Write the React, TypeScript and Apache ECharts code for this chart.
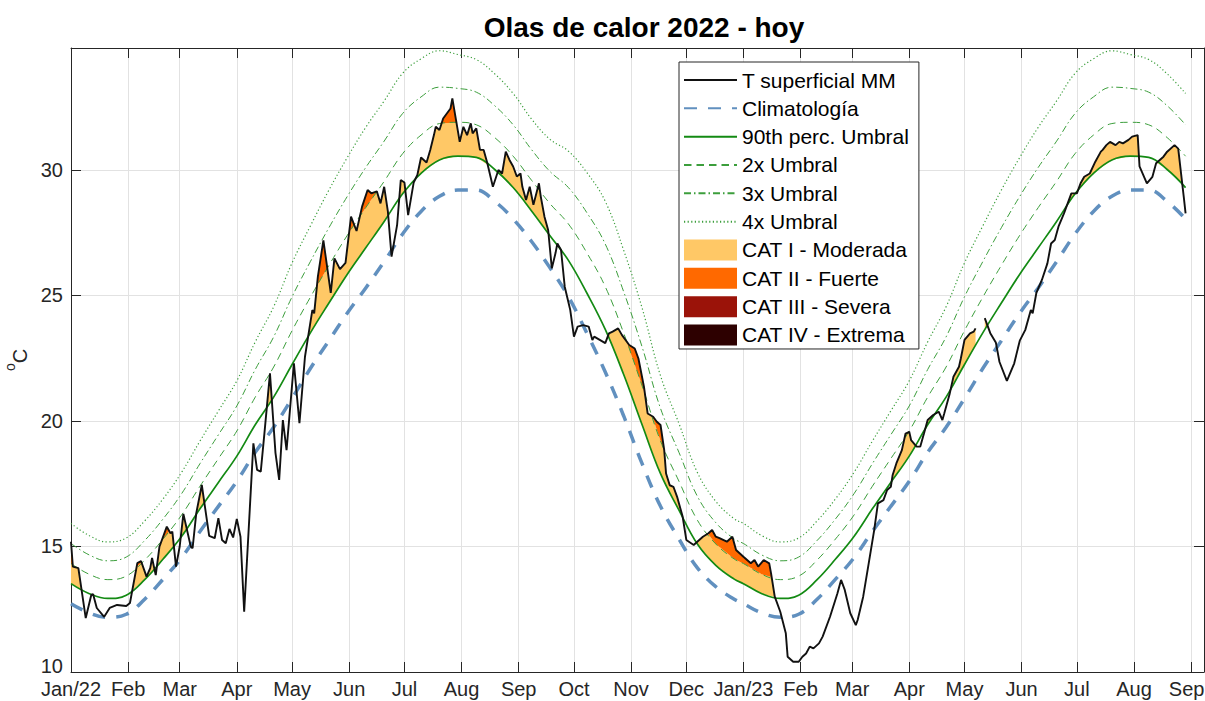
import React, { useEffect, useRef } from "react";
import * as echarts from "echarts";

const TITLE = "Olas de calor 2022 - hoy";
const MONTHS = ["Jan", "Feb", "Mar", "Apr", "May", "Jun", "Jul", "Aug", "Sep", "Oct", "Nov", "Dec"];
const Y_MIN = 10;
const Y_MAX = 34.86;
const Y_STEP = 5;
const AXIS_END_DAY = 615; // days after 1 Jan 2022 where the axes end
const LAST_DOY_2023 = 240; // last day-of-year drawn for the 2023 curves

const NAMES = [
  "T superficial MM",
  "Climatología",
  "90th perc. Umbral",
  "2x Umbral",
  "3x Umbral",
  "4x Umbral",
  "CAT I - Moderada",
  "CAT II - Fuerte",
  "CAT III - Severa",
  "CAT IV - Extrema",
];

// Daily climatology and 90th-percentile threshold, read at every 10th day of the year
const knotDoy = [0, 10, 20, 30, 40, 50, 60, 70, 80, 90, 100, 110, 120, 130, 140, 150, 160, 170, 180, 190, 200, 210, 220, 230, 240, 250, 260, 270, 280, 290, 300, 310, 320, 330, 340, 350, 360];
const climatologia = [12.72, 12.35, 12.18, 12.3, 12.9, 13.7, 14.55, 15.6, 16.6, 17.6, 18.75, 19.75, 20.9, 22.1, 23.2, 24.3, 25.3, 26.35, 27.45, 28.35, 28.95, 29.2, 29.2, 28.75, 28.05, 27.15, 26.1, 24.95, 23.5, 21.95, 20.2, 18.3, 16.6, 15.3, 14.15, 13.4, 12.9];
const umbral90 = [13.52, 13.12, 12.93, 13.06, 13.68, 14.5, 15.4, 16.5, 17.55, 18.6, 19.85, 20.95, 22.25, 23.52, 24.7, 25.85, 26.9, 27.95, 29.05, 29.87, 30.4, 30.55, 30.5, 30.02, 29.3, 28.37, 27.38, 26.4, 25.1, 23.65, 21.85, 19.85, 17.9, 16.45, 15.1, 14.25, 13.7];

// Sea surface temperature (days after 1 Jan 2022, ºC); null = missing data
const sstDay = [0, 1, 4, 8, 11, 12, 14, 18, 21, 25, 30, 32, 36, 38, 41, 43, 44, 46, 48, 52, 54, 55, 57, 59, 61, 65, 66, 68, 71, 75, 78, 80, 82, 84, 86, 88, 90, 92, 94, 99, 101, 103, 105, 108, 111, 113, 115, 117, 121, 124, 127, 129, 131, 132, 134, 137, 141, 143, 146, 149, 152, 155, 158, 161, 163, 166, 168, 170, 172, 174, 177, 179, 181, 183, 186, 188, 190, 193, 195, 197, 198, 200, 202, 204, 206, 207, 209, 211, 213, 215, 217, 218, 220, 222, 224, 226, 229, 232, 234, 236, 238, 240, 242, 244, 245, 247, 249, 251, 254, 255, 257, 259, 261, 263, 264, 266, 268, 271, 273, 275, 278, 281, 283, 284, 287, 290, 292, 294, 297, 299, 303, 306, 308, 311, 313, 316, 318, 320, 322, 323, 325, 327, 329, 332, 334, 338, 341, 343, 346, 348, 350, 352, 356, 359, 361, 365, 369, 371, 373, 376, 379, 380, 382, 385, 388, 389, 392, 395, 397, 399, 401, 403, 406, 408, 412, 416, 418, 420, 423, 426, 427, 430, 433, 436, 438, 441, 443, 445, 446, 448, 451, 453, 455, 456, 459, 461, 463, 465, 468, 471, 473, 474, 477, 479, 482, 483, 485, 488, 490, 491, 493, 496, 499, 502, 504, 508, 510, 512, 515, 518, 521, 522, 524, 527, 530, 532, 534, 536, 539, 541, 543, 546, 548, 550, 553, 556, 559, 560, 562, 564, 567, 569, 571, 574, 576, 579, 580, 584, 587, 589, 593, 595, 599, 601, 604, 605];
const sstTemp: (number | null)[] = [15.19, 14.2, 14.14, 12.15, 13.07, 13.1, 12.55, 12.2, 12.55, 12.67, 12.63, 12.75, 14.34, 14.42, 13.8, 14.14, 14.54, 13.86, 14.99, 15.79, 15.53, 15.59, 14.2, 15.0, 16.3, 15.0, 14.93, 16.33, 17.45, 15.42, 15.33, 16.13, 15.26, 15.13, 15.7, 15.36, 16.1, 15.39, 12.4, 19.11, 18.05, 17.98, 19.52, 21.9, 18.72, 17.65, 20.04, 18.84, 22.3, 19.91, 22.56, 23.49, 24.42, 24.29, 25.75, 27.2, 25.1, 26.48, 26.05, 26.3, 28.14, 27.57, 28.54, 29.2, 29.07, 29.15, 28.67, 29.33, 28.35, 26.55, 27.8, 29.6, 29.5, 28.2, 29.5, 29.8, 30.5, 30.3, 30.8, 31.39, 31.72, 31.59, 32.05, 32.25, 32.45, 32.85, 31.99, 31.12, 31.72, 31.39, 31.86, 31.46, 31.66, 30.8, 30.8, 30.27, 29.33, 30.0, 29.86, 30.73, 30.4, 30.14, 29.74, 29.86, 29.33, 28.8, 29.33, 28.61, 29.47, 28.94, 28.14, 27.61, 26.08, 26.69, 27.07, 26.81, 25.35, 24.42, 23.36, 23.76, 23.82, 23.76, 23.23, 23.36, 23.23, 23.1, 23.49, 23.56, 23.69, 23.43, 23.03, 22.89, 22.49, 21.37, 20.3, 20.17, 19.97, 19.84, 18.84, 17.91, 17.44, 17.38, 16.98, 16.19, 15.26, 15.06, 15.26, 15.39, 15.53, 15.66, 15.39, 15.33, 15.19, 15.39, 14.86, 14.59, 14.33, 14.46, 14.2, 14.46, 14.33, 13.93, 13.0, 12.4, 11.54, 10.61, 10.41, 10.41, 10.61, 10.74, 11.01, 10.94, 11.14, 11.41, 12.2, 13.13, 13.67, 13.27, 12.34, 11.87, 12.07, 13.0, 14.33, 15.66, 16.72, 16.85, 17.25, 17.38, 17.85, 18.31, 18.84, 19.5, 19.57, 19.24, 18.98, 18.98, 19.5, 20.04, 20.24, 20.37, 20.04, 20.3, 21.1, 21.76, 22.16, 22.49, 23.23, 23.49, 23.56, 23.69, null, 24.1, 23.5, 23.13, 22.35, 21.6, 21.95, 22.3, 23.2, 23.63, 24.42, 24.29, 25.1, 25.62, 26.28, 27.07, 27.21, 27.74, 28.27, 28.67, 29.07, 29.07, 29.47, 29.73, 29.86, 30.33, 30.73, 30.8, 30.99, 31.12, 30.99, 31.12, 31.06, 31.2, 31.33, 31.39, 30.14, 29.47, 29.73, 30.27, 30.53, 30.73, 30.99, 30.85, 28.94, 28.27];

const FONT = "'Liberation Sans', Arial, Helvetica, sans-serif";
const AXIS_COLOR = "#262626";
const GRID_COLOR = "#e2e2e2";
const SST_COLOR = "#111111";
const CLIM_COLOR = "#6190bf";
const THR_COLOR = "#138a13";
const MULT_COLOR = "#3c9e3c";
const FILL_COLORS = ["#FFC866", "#FF6900", "#9B1309", "#2D0000"];

const DAY = 86400000;
const T0 = new Date(2022, 0, 1).getTime();
const dayToTime = (d: number) => T0 + d * DAY;

// curves over both years (same daily climatology each year)
const curveDays: number[] = [];
const climVals: number[] = [];
const thrVals: number[] = [];
for (let y = 0; y < 2; y++) {
  knotDoy.forEach((d, i) => {
    if (y === 1 && d > LAST_DOY_2023) return;
    curveDays.push(d + 365 * y);
    climVals.push(climatologia[i]);
    thrVals.push(umbral90[i]);
  });
}
const multiple = (k: number) => climVals.map((c, i) => c + k * (thrVals[i] - c));

function interp(xs: number[], ys: number[], x: number) {
  if (x <= xs[0]) return ys[0];
  if (x >= xs[xs.length - 1]) return ys[ys.length - 1];
  let lo = 0;
  let hi = xs.length - 1;
  while (hi - lo > 1) {
    const mid = (lo + hi) >> 1;
    if (xs[mid] <= x) lo = mid;
    else hi = mid;
  }
  const f = (x - xs[lo]) / (xs[hi] - xs[lo]);
  return ys[lo] + f * (ys[hi] - ys[lo]);
}
function level(d: number, k: number) {
  const c = interp(curveDays, climVals, d);
  const t = interp(curveDays, thrVals, d);
  return c + k * (t - c);
}

const runs: [number, number][][] = [];
{
  let cur: [number, number][] = [];
  sstDay.forEach((d, i) => {
    const v = sstTemp[i];
    if (v == null) {
      if (cur.length) runs.push(cur);
      cur = [];
    } else cur.push([d, v]);
  });
  if (cur.length) runs.push(cur);
}

function fillSeries(idx: number) {
  const color = FILL_COLORS[idx];
  const kLo = idx + 1;
  return {
    type: "custom",
    name: NAMES[6 + idx],
    z: 1,
    silent: true,
    itemStyle: { color },
    data: [[T0, Y_MIN]],
    encode: { x: 0, y: 1 },
    renderItem: (_params: any, api: any) => {
      const children: any[] = [];
      for (const run of runs) {
        const top: number[][] = [];
        const bottom: number[][] = [];
        let any = false;
        const add = (d: number, v: number) => {
          const lo = level(d, kLo);
          const hi = idx === 3 ? Infinity : level(d, kLo + 1);
          const t = Math.max(lo, Math.min(v, hi));
          if (t > lo) any = true;
          top.push(api.coord([dayToTime(d), t]));
          bottom.push(api.coord([dayToTime(d), lo]));
        };
        for (let i = 0; i < run.length - 1; i++) {
          const [d0, v0] = run[i];
          const [d1, v1] = run[i + 1];
          for (let s = 0; s < 10; s++) {
            const f = s / 10;
            add(d0 + f * (d1 - d0), v0 + f * (v1 - v0));
          }
        }
        const last = run[run.length - 1];
        add(last[0], last[1]);
        if (any) {
          children.push({
            type: "polygon",
            shape: { points: top.concat(bottom.reverse()) },
            style: { fill: color },
          });
        }
      }
      return { type: "group", children };
    },
  };
}

function lineSeries(name: string, values: number[], lineStyle: any, z: number) {
  return {
    type: "line",
    name,
    data: curveDays.map((d, i) => [dayToTime(d), values[i]]),
    symbol: "none",
    smooth: 0.4,
    lineStyle,
    itemStyle: { color: lineStyle.color },
    z,
    silent: true,
  };
}

function buildOption() {
  const xBase = {
    type: "time",
    min: T0,
    max: dayToTime(AXIS_END_DAY),
    minInterval: 30 * DAY,
    maxInterval: 30 * DAY,
    axisLine: { show: true, lineStyle: { color: AXIS_COLOR, width: 1 } },
    axisTick: { show: true, inside: true, length: 10, lineStyle: { color: AXIS_COLOR } },
  };
  const yBase = {
    type: "value",
    min: Y_MIN,
    max: Y_MAX,
    interval: Y_STEP,
    axisLine: { show: true, lineStyle: { color: AXIS_COLOR, width: 1 } },
    axisTick: { show: true, inside: true, length: 10, lineStyle: { color: AXIS_COLOR } },
  };
  const lineLegend = (name: string) => ({ name, itemStyle: { opacity: 0, borderWidth: 0 } });
  return {
    animation: false,
    backgroundColor: "#ffffff",
    textStyle: { fontFamily: FONT },
    title: {
      text: TITLE,
      left: 644,
      top: 13,
      padding: 0,
      textAlign: "center",
      textStyle: { fontSize: 28, fontWeight: "bold", color: "#000", fontFamily: FONT },
    },
    grid: { left: 71, right: 1, top: 48, bottom: 29, containLabel: false, outerBoundsMode: "none" },
    legend: {
      orient: "vertical",
      left: 679,
      top: 62,
      itemWidth: 53,
      itemHeight: 21,
      itemGap: 7.33,
      padding: [7.5, 10, 3.5, 4],
      backgroundColor: "#ffffff",
      borderColor: AXIS_COLOR,
      borderWidth: 1,
      borderRadius: 0,
      selectedMode: false,
      textStyle: { fontSize: 21, color: "#000", fontFamily: FONT },
      data: [
        lineLegend(NAMES[0]),
        lineLegend(NAMES[1]),
        lineLegend(NAMES[2]),
        lineLegend(NAMES[3]),
        lineLegend(NAMES[4]),
        lineLegend(NAMES[5]),
        { name: NAMES[6], icon: "rect" },
        { name: NAMES[7], icon: "rect" },
        { name: NAMES[8], icon: "rect" },
        { name: NAMES[9], icon: "rect" },
      ],
    },
    xAxis: [
      {
        ...xBase,
        position: "bottom",
        splitLine: { show: true, lineStyle: { color: GRID_COLOR, width: 1 } },
        axisLabel: {
          show: true,
          margin: 7,
          fontSize: 20,
          color: AXIS_COLOR,
          fontFamily: FONT,
          showMinLabel: true,
          showMaxLabel: false,
          alignMinLabel: "center",
          hideOverlap: false,
          rich: {
            edge: { fontSize: 20, color: AXIS_COLOR, fontFamily: FONT, padding: [0, 9, 0, 0] },
          },
          formatter: (val: number) => {
            const dt = new Date(val);
            const m = dt.getMonth();
            if (m === 0) return `${MONTHS[0]}/${String(dt.getFullYear()).slice(2)}`;
            if (val > dayToTime(AXIS_END_DAY - 20)) return `{edge|${MONTHS[m]}}`;
            return MONTHS[m];
          },
        },
      },
      {
        ...xBase,
        position: "top",
        splitLine: { show: false },
        axisLabel: { show: false },
      },
    ],
    yAxis: [
      {
        ...yBase,
        position: "left",
        name: "{s|o}{c|C}",
        nameLocation: "middle",
        nameRotate: 90,
        nameGap: 26,
        nameTextStyle: {
          color: AXIS_COLOR,
          fontFamily: FONT,
          rich: {
            s: { fontSize: 14, lineHeight: 10, verticalAlign: "top", color: AXIS_COLOR, fontFamily: FONT },
            c: { fontSize: 20, lineHeight: 34, color: AXIS_COLOR, fontFamily: FONT },
          },
        },
        splitLine: { show: true, lineStyle: { color: GRID_COLOR, width: 1 } },
        axisLabel: {
          show: true,
          margin: 8,
          fontSize: 20,
          color: AXIS_COLOR,
          fontFamily: FONT,
          showMaxLabel: false,
          rich: {
            low: { fontSize: 20, color: AXIS_COLOR, fontFamily: FONT, padding: [0, 0, 12, 0] },
          },
          formatter: (v: number) => (v === Y_MIN ? `{low|${v}}` : String(v)),
        },
      },
      {
        ...yBase,
        position: "right",
        splitLine: { show: false },
        axisLabel: { show: false },
      },
    ],
    series: [
      fillSeries(0),
      fillSeries(1),
      fillSeries(2),
      fillSeries(3),
      lineSeries(NAMES[5], multiple(4), { color: MULT_COLOR, width: 1.2, type: [1.2, 2.4] }, 2),
      lineSeries(NAMES[4], multiple(3), { color: MULT_COLOR, width: 1, type: [7, 3, 1.5, 3] }, 2),
      lineSeries(NAMES[3], multiple(2), { color: MULT_COLOR, width: 1, type: [7.5, 5] }, 2),
      lineSeries(NAMES[1], climVals, { color: CLIM_COLOR, width: 3.5, type: [13, 11] }, 3),
      lineSeries(NAMES[2], thrVals, { color: THR_COLOR, width: 1.7 }, 4),
      {
        type: "line",
        name: NAMES[0],
        data: sstDay.map((d, i) => [dayToTime(d), sstTemp[i]]),
        symbol: "none",
        connectNulls: false,
        lineStyle: { color: SST_COLOR, width: 1.9 },
        itemStyle: { color: SST_COLOR },
        z: 5,
        silent: true,
      },
    ],
  };
}

export default function App() {
  const ref = useRef<HTMLDivElement>(null);
  useEffect(() => {
    if (!ref.current) return;
    const chart = echarts.init(ref.current, null, { renderer: "svg" });
    chart.setOption(buildOption() as any);
    return () => chart.dispose();
  }, []);
  return (
    <div
      ref={ref}
      style={{ position: "fixed", left: 0, top: 0, width: 1205, height: 701, background: "#fff" }}
    />
  );
}
